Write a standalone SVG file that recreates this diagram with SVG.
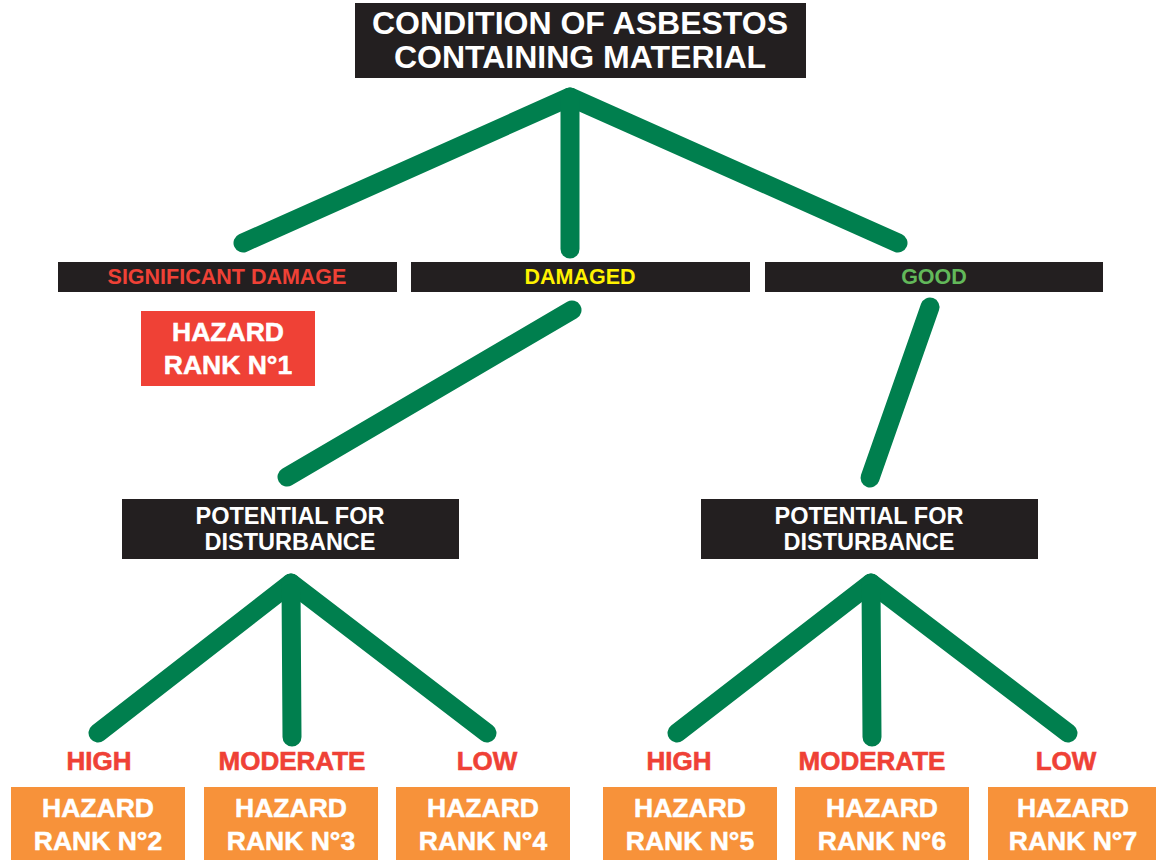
<svg xmlns="http://www.w3.org/2000/svg" width="1156" height="860" viewBox="0 0 1156 860">
<style>
.box{fill:#231f20}
.t{font-family:"Liberation Sans",Arial,sans-serif;font-weight:bold;text-anchor:middle}
.title{fill:#fff;font-size:32px}
.lvl{font-size:21.5px}
.pot{fill:#fff;font-size:23.5px}
.lab{fill:#ef4136;font-size:26px;stroke:#ef4136;stroke-width:0.6}
.hz{fill:#fff;font-size:26.5px;stroke:#fff;stroke-width:0.5}
.conn{fill:none;stroke:#007f4e;stroke-width:19;stroke-linecap:round;stroke-linejoin:round}
</style>
<rect width="1156" height="860" fill="#fff"/>
<g id="connectors" class="conn">
<path d="M243,243 L570,97 L898,243"/>
<path d="M570,97 L570,249"/>
<path d="M572,310 L287,477"/>
<path d="M930,307 L870,478"/>
<path d="M98,733 L291,583 L487,733"/>
<path d="M291,583 L292,737"/>
<path d="M677,733 L871,583 L1068,733"/>
<path d="M871,583 L872,737"/>
</g>
<g id="title">
<rect class="box" x="355" y="3" width="451" height="75"/>
<text class="t title" x="580" y="34">CONDITION OF ASBESTOS</text>
<text class="t title" x="580" y="68">CONTAINING MATERIAL</text>
</g>
<g id="significant">
<rect class="box" x="58" y="262" width="339" height="30"/>
<text class="t lvl" x="227" y="284" fill="#ef4136">SIGNIFICANT DAMAGE</text>
</g>
<g id="damaged">
<rect class="box" x="411" y="262" width="339" height="30"/>
<text class="t lvl" x="580" y="284" fill="#fff200">DAMAGED</text>
</g>
<g id="good">
<rect class="box" x="765" y="262" width="338" height="30"/>
<text class="t lvl" x="934" y="284" fill="#62b85a">GOOD</text>
</g>
<g id="rank1">
<rect x="141" y="311" width="174" height="75" fill="#ef4136"/>
<text class="t hz" x="228" y="341">HAZARD</text>
<text class="t hz" x="228" y="374">RANK N°1</text>
</g>
<g id="potential-left">
<rect class="box" x="122" y="499" width="337" height="60"/>
<text class="t pot" x="290" y="524">POTENTIAL FOR</text>
<text class="t pot" x="290" y="550">DISTURBANCE</text>
</g>
<g id="potential-right">
<rect class="box" x="701" y="499" width="337" height="60"/>
<text class="t pot" x="869" y="524">POTENTIAL FOR</text>
<text class="t pot" x="869" y="550">DISTURBANCE</text>
</g>
<g id="high-left"><text class="t lab" x="99" y="770">HIGH</text></g>
<g id="moderate-left"><text class="t lab" x="292" y="770">MODERATE</text></g>
<g id="low-left"><text class="t lab" x="487" y="770">LOW</text></g>
<g id="high-right"><text class="t lab" x="679" y="770">HIGH</text></g>
<g id="moderate-right"><text class="t lab" x="872" y="770">MODERATE</text></g>
<g id="low-right"><text class="t lab" x="1066" y="770">LOW</text></g>
<g id="rank2">
<rect x="11" y="787" width="174" height="73" fill="#f7923a"/>
<text class="t hz" x="98" y="817">HAZARD</text>
<text class="t hz" x="98" y="850">RANK N°2</text>
</g>
<g id="rank3">
<rect x="204" y="787" width="174" height="73" fill="#f7923a"/>
<text class="t hz" x="291" y="817">HAZARD</text>
<text class="t hz" x="291" y="850">RANK N°3</text>
</g>
<g id="rank4">
<rect x="396" y="787" width="174" height="73" fill="#f7923a"/>
<text class="t hz" x="483" y="817">HAZARD</text>
<text class="t hz" x="483" y="850">RANK N°4</text>
</g>
<g id="rank5">
<rect x="603" y="787" width="174" height="73" fill="#f7923a"/>
<text class="t hz" x="690" y="817">HAZARD</text>
<text class="t hz" x="690" y="850">RANK N°5</text>
</g>
<g id="rank6">
<rect x="795" y="787" width="174" height="73" fill="#f7923a"/>
<text class="t hz" x="882" y="817">HAZARD</text>
<text class="t hz" x="882" y="850">RANK N°6</text>
</g>
<g id="rank7">
<rect x="988" y="787" width="168" height="73" fill="#f7923a"/>
<text class="t hz" x="1073" y="817">HAZARD</text>
<text class="t hz" x="1073" y="850">RANK N°7</text>
</g>
</svg>
